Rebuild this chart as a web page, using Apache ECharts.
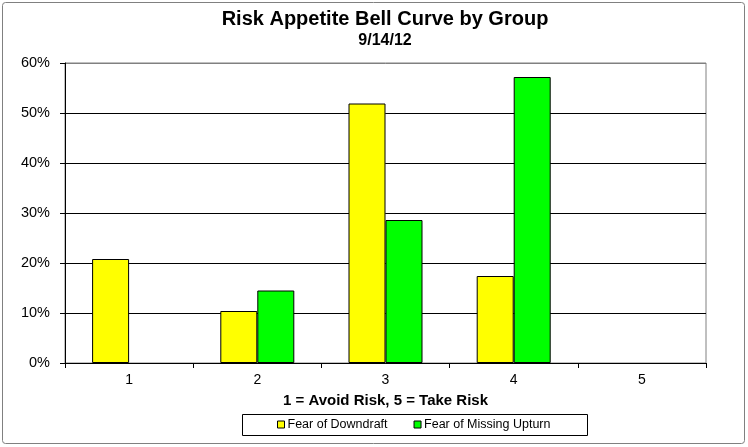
<!DOCTYPE html>
<html><head><meta charset="utf-8">
<script src="https://cdn.jsdelivr.net/npm/echarts@6/dist/echarts.min.js"></script>
<style>html,body{margin:0;padding:0;background:#fff}#c{width:748px;height:447px}</style>
</head><body><div id="c"></div>
<script>
const categories = ['1','2','3','4','5'];
const fearOfDowndraft = [0.208, 0.104, 0.519, 0.174, 0];
const fearOfMissingUpturn = [0, 0.145, 0.286, 0.572, 0];
const yTicks = [0, 0.1, 0.2, 0.3, 0.4, 0.5, 0.6];

const FONT = 'Arial, "Liberation Sans", sans-serif';
const hideZero = arr => arr.map(v => v === 0 ? '-' : v);
const chart = echarts.init(document.getElementById('c'), null, {renderer:'canvas'});
chart.setOption({
  backgroundColor: '#fff',
  animation: false,
  title: {
    text: 'Risk Appetite Bell Curve by Group',
    subtext: '9/14/12',
    left: 385, top: 9, textAlign: 'center', itemGap: 4, padding: 0,
    textStyle: {fontFamily: FONT, fontSize: 20, fontWeight: 'bold', color: '#000'},
    subtextStyle: {fontFamily: FONT, fontSize: 16, fontWeight: 'bold', color: '#000'}
  },
  grid: {left: 65, right: 42, top: 63, bottom: 84, show: true, borderColor: '#808080', borderWidth: 1, backgroundColor: 'transparent'},
  legend: {
    data: ['Fear of Downdraft', 'Fear of Missing Upturn'],
    left: 277, top: 418, itemWidth: 7, itemHeight: 7, itemGap: 26, padding: 0,
    icon: 'rect',
    itemStyle: {borderColor: '#000', borderWidth: 1},
    textStyle: {fontFamily: FONT, fontSize: 12.5, color: '#000', padding: [0,0,0,-2]}
  },
  xAxis: {
    type: 'category', data: categories,
    name: '1 = Avoid Risk, 5 = Take Risk', nameLocation: 'middle', nameGap: 30,
    nameTextStyle: {fontFamily: FONT, fontSize: 15, fontWeight: 'bold', color: '#000'},
    axisLine: {lineStyle: {color: '#000', width: 1}},
    axisTick: {show: true, length: 5, lineStyle: {color: '#000'}, alignWithLabel: false},
    axisLabel: {fontFamily: FONT, fontSize: 14, color: '#000', margin: 10},
    splitLine: {show: false}
  },
  yAxis: {
    type: 'value', min: yTicks[0], max: yTicks[yTicks.length-1], interval: 0.1,
    axisLine: {show: true, lineStyle: {color: '#000', width: 1}},
    axisTick: {show: true, length: 5, lineStyle: {color: '#000'}},
    axisLabel: {fontFamily: FONT, fontSize: 14.5, color: '#000', margin: 15,
      formatter: v => Math.round(v * 100) + '%'},
    splitLine: {show: true, lineStyle: {color: ['#000','#000','#000','#000','#000','#000','#808080'], width: 1}}
  },
  series: [
    {name: 'Fear of Downdraft', type: 'bar', data: hideZero(fearOfDowndraft), barWidth: 37, barGap: '0%',
     itemStyle: {color: '#FFFF00', borderColor: '#000', borderWidth: 1}},
    {name: 'Fear of Missing Upturn', type: 'bar', data: hideZero(fearOfMissingUpturn), barWidth: 37, barGap: '0%',
     itemStyle: {color: '#00FF00', borderColor: '#000', borderWidth: 1}}
  ],
  graphic: [
    {type: 'rect', shape: {x: 2.5, y: 2.5, width: 742, height: 441, r: 3}, style: {fill: 'none', stroke: '#808080', lineWidth: 1}, silent: true, z: -1},
    {type: 'rect', shape: {x: 242.5, y: 414.5, width: 345, height: 21}, style: {fill: 'none', stroke: '#000', lineWidth: 1}, silent: true}
  ]
});
</script></body></html>
